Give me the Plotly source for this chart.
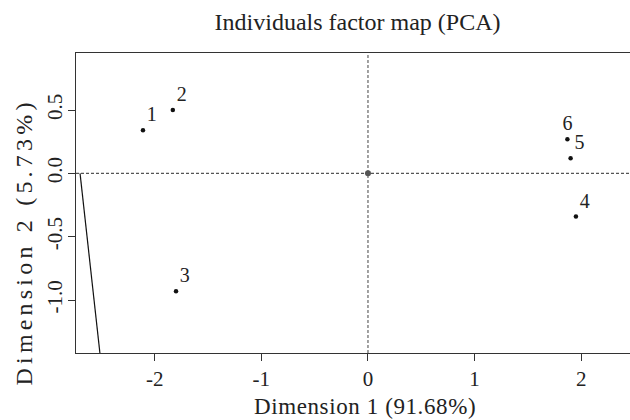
import plotly.graph_objects as go

# Data
ind_labels = ["1", "2", "3", "4", "5", "6"]
dim1 = [-2.11, -1.83, -1.80, 1.95, 1.90, 1.87]
dim2 = [0.34, 0.50, -0.93, -0.34, 0.12, 0.27]
label_pos = ["top right", "top right", "top right", "top right", "top right", "top center"]

line_x = [-2.70, -2.49]
line_y = [0.0, -1.60]

x_ticks = [-2, -1, 0, 1, 2]
y_ticks = [-1.0, -0.5, 0.0, 0.5]

FONT = "Liberation Serif"
TXT = "#222222"

fig = go.Figure()

fig.add_trace(go.Scatter(
    x=line_x, y=line_y, mode="lines",
    line=dict(color="#111111", width=1.2), hoverinfo="skip", showlegend=False,
    cliponaxis=True,
))

fig.add_trace(go.Scatter(
    x=[0], y=[0], mode="markers",
    marker=dict(color="#555555", size=6), showlegend=False,
))

fig.add_trace(go.Scatter(
    x=dim1, y=dim2, mode="markers+text",
    text=ind_labels, textposition=label_pos,
    textfont=dict(family=FONT, size=20, color=TXT),
    marker=dict(color="#111111", size=4.5), showlegend=False,
))

fig.add_hline(y=0, line=dict(color="#555555", width=1.1, dash="3px,2px"))
fig.add_vline(x=0, line=dict(color="#555555", width=1.1, dash="3px,2px"))

fig.update_layout(
    width=630, height=420,
    margin=dict(l=76, r=0, t=53, b=67),
    paper_bgcolor="white", plot_bgcolor="white",
    title=dict(text="Individuals factor map (PCA)", x=0.5675, xanchor="center",
               y=0.9476, yanchor="middle",
               font=dict(family=FONT, size=24, color=TXT)),
    font=dict(family=FONT, color=TXT),
    annotations=[
        dict(text='<span style="letter-spacing:0.6px">Dimension 1 (91.68%)</span>',
             xref="paper", yref="paper", x=(364.5 - 76) / 554, y=-(406 - 353) / 300,
             xanchor="center", yanchor="middle", showarrow=False,
             font=dict(family=FONT, size=23, color=TXT)),
        dict(text='<span style="letter-spacing:4.2px">Dimension 2 (5.73%)</span>',
             xref="paper", yref="paper", x=-(76 - 24) / 554, y=(353 - 242.5) / 300,
             xanchor="center", yanchor="middle", showarrow=False, textangle=-90,
             font=dict(family=FONT, size=24, color=TXT)),
    ],
)

fig.update_xaxes(
    range=[-2.738, 2.457], tickvals=x_ticks, ticktext=[str(v) for v in x_ticks],
    showgrid=False, zeroline=False, showline=True, mirror=True,
    linecolor="#333333", linewidth=1.4,
    ticks="outside", ticklen=7, tickcolor="#333333", tickwidth=1.2,
    tickfont=dict(family=FONT, size=21, color=TXT),
)
fig.update_yaxes(
    range=[-1.418, 0.95], tickvals=y_ticks, ticktext=["%.1f" % v for v in y_ticks],
    showgrid=False, zeroline=False, showline=True, mirror=False,
    linecolor="#333333", linewidth=1.4,
    ticks="outside", ticklen=7, tickcolor="#333333", tickwidth=1.2,
    tickangle=-90, ticklabelstandoff=-3,
    tickfont=dict(family=FONT, size=21, color=TXT),
)

fig.write_html("out.html", config={"displayModeBar": False},
               post_script="document.body.style.margin='0px';")
